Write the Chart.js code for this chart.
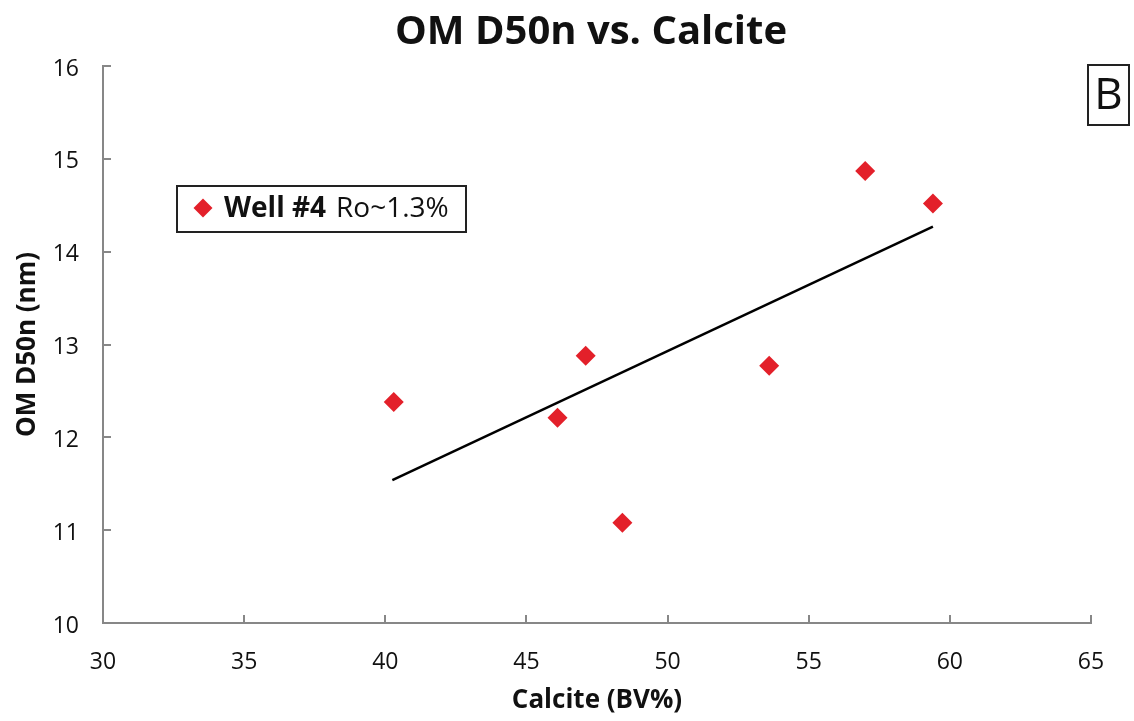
<!DOCTYPE html>
<html>
<head>
<meta charset="utf-8">
<script src="https://cdn.jsdelivr.net/npm/chart.js@4.4.0/dist/chart.umd.min.js"></script>
<style>
  html, body { margin: 0; padding: 0; background: #fff; }
  #wrap { width: 1134px; height: 721px; }
</style>
</head>
<body>
<div id="wrap"><canvas id="chartB"></canvas></div>
<script>
// Well #4 samples: calcite (BV%) vs OM D50n (nm)
const calcite = [40.3, 46.1, 47.1, 48.4, 53.6, 57.0, 59.4];
const d50n = [12.38, 12.21, 12.88, 11.08, 12.77, 14.87, 14.52];
// linear trend, drawn between its two ends
const trendX = [40.25, 59.4];
const trendY = [11.54, 14.27];

const xMin = 30, xMax = 65, xStep = 5;
const yMin = 10, yMax = 16, yStep = 1;

const chartTitle = 'OM D50n vs. Calcite';
const legendBold = 'Well #4';
const legendRest = 'Ro~1.3%';
const panelLetter = 'B';

const FONT = "'Open Sans', sans-serif";
const AXIS_GREY = '#878787';
const RED = '#e3202a';

const ctxB = document.getElementById('chartB').getContext('2d');

// inward tick marks, title, legend box and panel letter
const extras = {
  id: 'extras',
  afterDraw(chart) {
    const c = chart.ctx;
    const xs = chart.scales.x, ys = chart.scales.y;
    const area = chart.chartArea;
    c.save();
    c.strokeStyle = AXIS_GREY;
    c.lineWidth = 2;
    c.beginPath();
    xs.ticks.forEach(t => {
      const px = Math.round(xs.getPixelForValue(t.value));
      c.moveTo(px, area.bottom);
      c.lineTo(px, area.bottom - 8);
    });
    ys.ticks.forEach(t => {
      const py = Math.round(ys.getPixelForValue(t.value));
      c.moveTo(area.left, py);
      c.lineTo(area.left + 8, py);
    });
    c.stroke();

    // title
    c.fillStyle = '#111';
    c.textAlign = 'center';
    c.textBaseline = 'middle';
    c.font = 'bold 40px ' + FONT;
    c.fillText(chartTitle, 591, 33);

    // legend
    c.strokeStyle = '#222';
    c.lineWidth = 2;
    c.strokeRect(177, 186, 289, 46);
    c.fillStyle = RED;
    c.beginPath();
    c.moveTo(203, 198.5);
    c.lineTo(212.5, 208);
    c.lineTo(203, 217.5);
    c.lineTo(193.5, 208);
    c.closePath();
    c.fill();
    c.fillStyle = '#111';
    c.textAlign = 'left';
    c.font = 'bold 28px ' + FONT;
    c.fillText(legendBold, 224, 209);
    c.font = '28px ' + FONT;
    c.fillText(legendRest, 336, 209);

    // panel letter
    c.strokeStyle = '#222';
    c.strokeRect(1088, 65, 41, 60);
    c.textAlign = 'center';
    c.font = '44px ' + FONT;
    c.fillText(panelLetter, 1108.5, 96);
    c.restore();
  }
};

new Chart(ctxB, {
  type: 'scatter',
  data: {
    datasets: [
      {
        label: legendBold + ' ' + legendRest,
        data: calcite.map((v, i) => ({ x: v, y: d50n[i] })),
        pointStyle: 'rectRot',
        pointRadius: 10,
        pointHoverRadius: 10,
        backgroundColor: RED,
        borderColor: RED,
        borderWidth: 0,
        order: 1
      },
      {
        label: 'trend',
        type: 'line',
        data: trendX.map((v, i) => ({ x: v, y: trendY[i] })),
        borderColor: '#000',
        borderWidth: 2.5,
        pointRadius: 0,
        fill: false,
        order: 2
      }
    ]
  },
  options: {
    responsive: true,
    maintainAspectRatio: false,
    animation: false,
    layout: { padding: { top: 66, left: 8, right: 43, bottom: 1 } },
    plugins: {
      legend: { display: false },
      title: { display: false },
      tooltip: { enabled: false }
    },
    scales: {
      x: {
        type: 'linear',
        min: xMin, max: xMax,
        ticks: { stepSize: xStep, padding: 26, color: '#111', font: { family: FONT, size: 23 } },
        grid: { display: false, drawTicks: false },
        border: { display: true, color: AXIS_GREY, width: 2 },
        title: { display: true, text: 'Calcite (BV%)', color: '#111', font: { family: FONT, size: 26, weight: 'bold' } },
        afterFit: s => { s.height = 97; }
      },
      y: {
        type: 'linear',
        min: yMin, max: yMax,
        ticks: { stepSize: yStep, padding: 24, labelOffset: 3, color: '#111', font: { family: FONT, size: 23 } },
        grid: { display: false, drawTicks: false },
        border: { display: true, color: AXIS_GREY, width: 2 },
        title: { display: true, text: 'OM D50n (nm)', color: '#111', font: { family: FONT, size: 26, weight: 'bold' } },
        afterFit: s => { s.width = 95; }
      }
    }
  },
  plugins: [extras]
});
</script>
</body>
</html>
